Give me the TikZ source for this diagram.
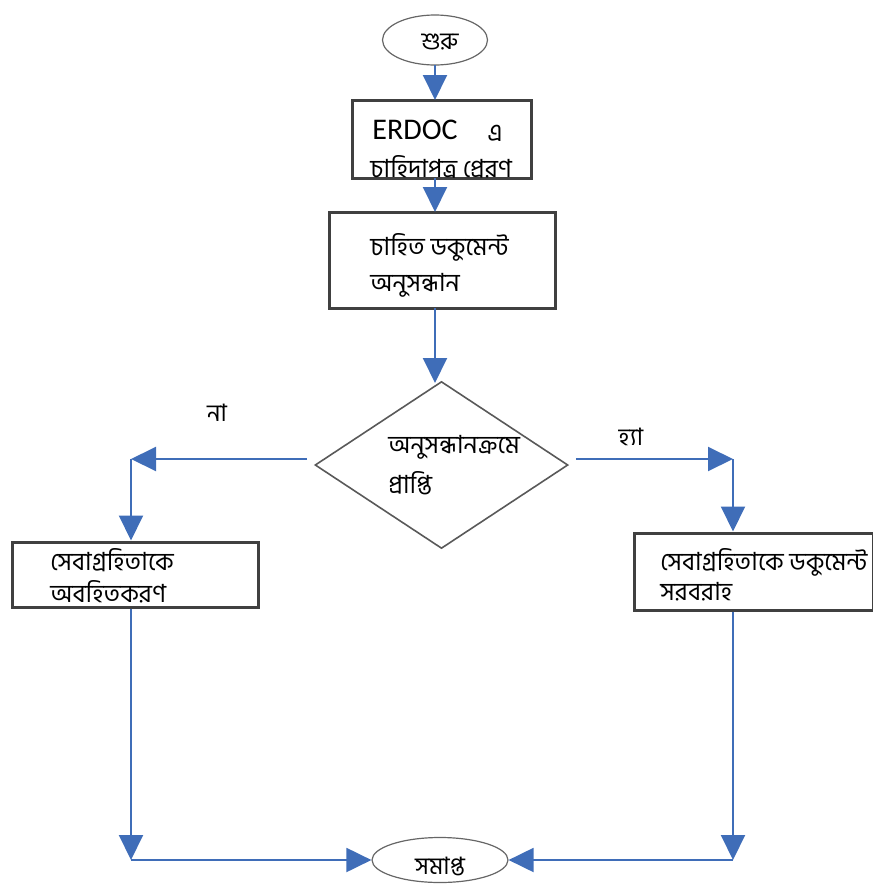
\documentclass[tikz,border=0pt]{standalone}
\usepackage{fontspec}
\setmainfont{Carlito}
\newfontfamily\bn[Script=Bengali]{Hind Siliguri}
\usetikzlibrary{shapes.geometric, arrows.meta}

\definecolor{flowblue}{HTML}{3F6DB8}
\definecolor{boxgray}{HTML}{404040}

\tikzset{
  box/.style={draw=boxgray, line width=1.5pt, rectangle, inner sep=0pt},
  term/.style={draw=gray!80!black, line width=0.6pt, ellipse, inner sep=0pt},
  decide/.style={draw=gray!70!black, line width=0.8pt, diamond, inner sep=0pt},
  txt/.style={anchor=west, inner sep=0pt, font=\bn\fontsize{12.5}{14}\selectfont},
  flow/.style={draw=flowblue, line width=1pt, -{Triangle[length=12.5pt,width=12pt]}}
}

\begin{document}
\begin{tikzpicture}[x=0.5pt, y=-0.5pt]
\useasboundingbox (0,0) rectangle (873,884);

% start
\node[term, minimum width=52.5pt, minimum height=25pt] (start) at (435,40) {};
\node[anchor=center, inner sep=0pt, font=\bn\fontsize{12}{14}\selectfont] (startt) at (440,42) {শুরু};

% boxes
\node[box, minimum width=89.5pt, minimum height=39pt] (req) at (441.5,139) {};
\node[anchor=west, inner sep=0pt, font=\fontsize{15}{17}\selectfont] (reqa) at (372,130) {ERDOC};
\node[txt] (reqb) at (487,133) {এ};
\node[txt] (reqc) at (370,167) {চাহিদাপত্র প্রেরণ};

\node[box, minimum width=113pt, minimum height=48pt] (search) at (442,260) {};
\node[txt] (searcha) at (370,247) {চাহিত ডকুমেন্ট};
\node[txt] (searchb) at (370,285) {অনুসন্ধান};

% decision
\node[decide, minimum width=126.5pt, minimum height=83.5pt] (found) at (441.5,465) {};
\node[txt] (founda) at (388,447) {অনুসন্ধানক্রমে};
\node[txt] (foundb) at (388,483) {প্রাপ্তি};

\node[anchor=center, inner sep=0pt, font=\bn\fontsize{12}{14}\selectfont] (no) at (217,413) {না};
\node[anchor=center, inner sep=0pt, font=\bn\fontsize{12}{14}\selectfont] (yes) at (631,437) {হ্যা};

\node[box, minimum width=123pt, minimum height=32.5pt] (inform) at (135,574.5) {};
\node[txt] (informa) at (50,560) {সেবাগ্রহিতাকে};
\node[txt] (informb) at (50,592) {অবহিতকরণ};

\node[box, minimum width=119.5pt, minimum height=38.5pt] (supply) at (753.5,571.5) {};
\node[txt] (supplya) at (660,562) {সেবাগ্রহিতাকে ডকুমেন্ট};
\node[txt] (supplyb) at (660,592) {সরবরাহ};

% end
\node[term, minimum width=68pt, minimum height=22.5pt] (stop) at (440,860) {};
\node[anchor=center, inner sep=0pt, font=\bn\fontsize{12}{14}\selectfont] (stopt) at (440,866) {সমাপ্ত};

\coordinate (nl) at (131,459);
\coordinate (yr) at (733,459);
\coordinate (bl) at (131,860);
\coordinate (br) at (733,860);

\draw[flow] (435,65) -- (435,100);
\draw[flow] (435,178) -- (435,212);
\draw[flow] (435,308) -- (435,383);

\draw[flow] (found.west) ++(-7,-6) -- (nl);
\draw[flow] (nl) -- (nl |- inform.north);
\draw[flow] (found.east) ++(7,-6) -- (yr);
\draw[flow] (yr) -- (yr |- supply.north);

\draw[flow] (nl |- inform.south) -- (bl);
\draw[flow] (bl) -- (stop.west);
\draw[flow] (yr |- supply.south) -- (br);
\draw[flow] (br) -- (stop.east);

\end{tikzpicture}
\end{document}
